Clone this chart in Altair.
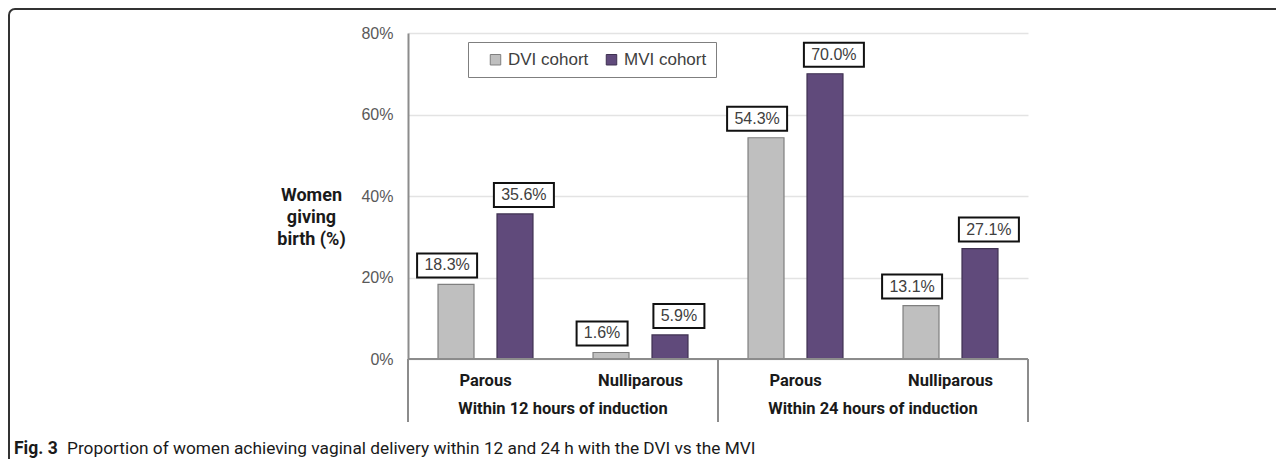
import altair as alt
import pandas as pd

# ---- data ----
subgroups = ["Parous", "Nulliparous", "Parous", "Nulliparous"]
groups = ["Within 12 hours of induction", "Within 12 hours of induction",
          "Within 24 hours of induction", "Within 24 hours of induction"]
cohorts = ["DVI cohort", "MVI cohort"]
dvi_values = [18.3, 1.6, 54.3, 13.1]
mvi_values = [35.6, 5.9, 70.0, 27.1]
y_ticks = [0, 20, 40, 60, 80]
y_title = ["Women", "giving", "birth (%)"]
caption_bold = "Fig. 3"
caption_text = "Proportion of women achieving vaginal delivery within 12 and 24 h with the DVI vs the MVI"

keys = [g + "|" + s for g, s in zip(groups, subgroups)]

rows = []
for k, g, s, a, b in zip(keys, groups, subgroups, dvi_values, mvi_values):
    rows.append({"key": k, "group": g, "sub": s, "cohort": cohorts[0], "value": a})
    rows.append({"key": k, "group": g, "sub": s, "cohort": cohorts[1], "value": b})
df = pd.DataFrame(rows)
cat_df = pd.DataFrame({"key": keys, "sub": subgroups})
grp_df = pd.DataFrame({"group": sorted(set(groups))})

W, H = 620, 326
FONT = "Liberation Sans"
BOLD = "Roboto"


def xkey():
    return alt.X("key:N", sort=keys, axis=None,
                 scale=alt.Scale(domain=keys, paddingInner=0, paddingOuter=0))


def xoff():
    return alt.XOffset("cohort:N", sort=cohorts,
                       scale=alt.Scale(domain=cohorts, paddingInner=0.39, paddingOuter=0.509))


yscale = alt.Scale(domain=[0, 80], nice=False)

bars = alt.Chart(df).mark_bar(strokeWidth=1.2).encode(
    x=xkey(),
    xOffset=xoff(),
    y=alt.Y("value:Q", scale=yscale,
            axis=alt.Axis(values=y_ticks, labelExpr="datum.value + '%'", title=y_title,
                          titleAngle=0, titleAlign="center", titleBaseline="middle",
                          titleX=-97, titleY=162, titleFont=BOLD, titleFontSize=18,
                          titleFontWeight="bold", titleColor="#1a1a1a", titleLineHeight=22,
                          labelFont=FONT, labelFontSize=16, labelColor="#595959",
                          labelPadding=15, ticks=False, domainColor="#8c8c8c",
                          domainWidth=2, gridColor="#e3e3e3", gridWidth=1.5)),
    color=alt.Color("cohort:N", scale=alt.Scale(domain=cohorts, range=["#bfbfbf", "#604a7b"]),
                    legend=alt.Legend(title=None, orient="none", legendX=60, legendY=9,
                                      direction="horizontal", strokeColor="#7f7f7f",
                                      padding=9, symbolType="square", symbolSize=110,
                                      symbolStrokeColor="#595959", symbolStrokeWidth=1,
                                      symbolOffset=10, columnPadding=4, labelOffset=4,
                                      labelFont=FONT, labelFontSize=17, labelColor="#404040")),
    stroke=alt.Stroke("cohort:N", scale=alt.Scale(domain=cohorts, range=["#7f7f7f", "#3f3151"]),
                      legend=None),
)

path4 = "M-0.85,-0.4L0.85,-0.4L0.85,0.4L-0.85,0.4Z"
path5 = "M-1,-0.4L1,-0.4L1,0.4L-1,0.4Z"

boxes = alt.Chart(df).transform_calculate(
    label="format(datum.value, '.1f') + '%'"
).transform_calculate(
    n="length(datum.label)"
).mark_point(size=3600, filled=True, fill="white", stroke="#111111",
             strokeWidth=2, opacity=1, yOffset=-19).encode(
    x=xkey(),
    xOffset=xoff(),
    y=alt.Y("value:Q", scale=yscale),
    shape=alt.Shape("n:O", scale=alt.Scale(domain=[4, 5], range=[path4, path5]), legend=None),
)

labels = alt.Chart(df).transform_calculate(
    label="format(datum.value, '.1f') + '%'"
).mark_text(dy=-19, font=FONT, fontSize=16, color="#404040", baseline="middle").encode(
    x=xkey(),
    xOffset=xoff(),
    y=alt.Y("value:Q", scale=yscale),
    text="label:N",
)

line_color = "#8c8c8c"
one = alt.Data(values=[{}])
baseline = alt.Chart(one).mark_rule(color=line_color, strokeWidth=2).encode(
    x=alt.value(0), x2=alt.value(W), y=alt.value(H))
div_left = alt.Chart(one).mark_rule(color=line_color, strokeWidth=2).encode(
    x=alt.value(0), y=alt.value(H), y2=alt.value(389))
div_mid = alt.Chart(one).mark_rule(color=line_color, strokeWidth=2).encode(
    x=alt.value(W / 2), y=alt.value(H), y2=alt.value(389))
div_right = alt.Chart(one).mark_rule(color=line_color, strokeWidth=2).encode(
    x=alt.value(W), y=alt.value(H), y2=alt.value(389))

cat_text = alt.Chart(cat_df).mark_text(font=BOLD, fontSize=16.5, fontWeight="bold",
                                       color="#1a1a1a", baseline="middle").encode(
    x=xkey(), y=alt.value(348), text="sub:N")

grp_text = alt.Chart(grp_df).mark_text(font=BOLD, fontSize=16.5, fontWeight="bold",
                                       color="#1a1a1a", baseline="middle").encode(
    x=alt.X("group:N", axis=None, scale=alt.Scale(paddingInner=0, paddingOuter=0)),
    y=alt.value(376), text="group:N")

cap1 = alt.Chart(one).mark_text(font=BOLD, fontSize=17.5, fontWeight="bold", color="#1a1a1a",
                                align="left", baseline="middle").encode(
    x=alt.value(-394), y=alt.value(416), text=alt.value(caption_bold))
cap2 = alt.Chart(one).mark_text(font=BOLD, fontSize=17.3, color="#1a1a1a",
                                align="left", baseline="middle").encode(
    x=alt.value(-341), y=alt.value(416), text=alt.value(caption_text))

frame_top = alt.Chart(one).mark_rule(color="#333333", strokeWidth=2).encode(
    x=alt.value(-393), x2=alt.value(880), y=alt.value(-24))
frame_left = alt.Chart(one).mark_rule(color="#333333", strokeWidth=2).encode(
    x=alt.value(-399), y=alt.value(-18), y2=alt.value(440))
frame_corner = alt.Chart(one).mark_arc(stroke="#333333", strokeWidth=2, fillOpacity=0,
                                       innerRadius=6, outerRadius=6).encode(
    x=alt.value(-393), y=alt.value(-18),
    theta=alt.value(4.712), theta2=alt.value(6.283))

chart = alt.layer(
    bars, boxes, labels, baseline, div_left, div_mid, div_right,
    cat_text, grp_text, cap1, cap2, frame_top, frame_left, frame_corner
).resolve_scale(x="independent", xOffset="independent").properties(
    width=W, height=H,
    autosize=alt.AutoSizeParams(type="none"),
    padding={"left": 400, "top": 25, "right": 248, "bottom": 100},
).configure_view(stroke=None)

chart.save("out.html", embed_options={"renderer": "svg", "actions": False})
